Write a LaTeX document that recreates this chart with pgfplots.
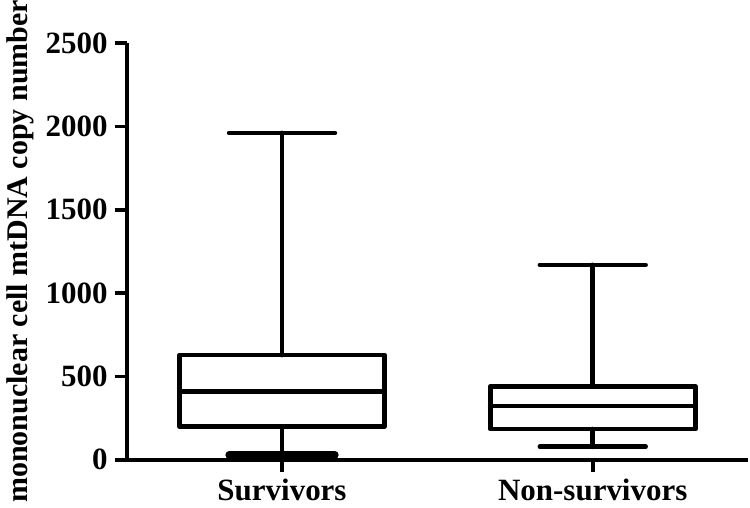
\documentclass[border=0pt]{standalone}
\usepackage{fontspec}
\setmainfont{Liberation Serif}
\usepackage{pgfplots}
\pgfplotsset{compat=1.18}
\newcommand{\tl}[1]{{\fontsize{15.5}{15.5}\selectfont\bfseries #1}}

\begin{document}
\begin{tikzpicture}
\begin{axis}[
    scale only axis,
    width=311pt, height=208.5pt,
    xmin=-0.5, xmax=1.5,
    ymin=0, ymax=2500,
    axis lines=left,
    axis line style={-, line width=1.9pt, black},
    xtick={0,1},
    xticklabels={\tl{Survivors}, \tl{Non-survivors}},
    ytick={0,500,1000,1500,2000,2500},
    yticklabels={\tl{0},\tl{500},\tl{1000},\tl{1500},\tl{2000},\tl{2500}},
    tick align=outside,
    major tick length=6pt,
    tick style={line width=1.9pt, black},
    ylabel={mononuclear cell mtDNA copy number},
    ylabel style={font=\fontsize{15}{15}\selectfont\bfseries, inner xsep=0pt, yshift=-1pt},
    unbounded coords=jump,
    clip=false,
    box/.style={black, line width=2.4pt, line cap=round, line join=round, mark=none},
]
% Survivors: whisker 30, Q1 200, median 408, Q3 628, whisker 1961
\addplot[box] coordinates {(-0.33,200) (0.33,200) (0.33,628) (-0.33,628)} -- cycle;
\addplot[box] coordinates {(-0.33,408) (0.33,408)};
\addplot[box] coordinates {(0,628) (0,1961) (nan,nan) (-0.17,1961) (0.17,1961)};
\addplot[box] coordinates {(0,200) (0,30)};
\addplot[box, line width=3.8pt] coordinates {(-0.17,30) (0.17,30)};
% Non-survivors: whisker 78, Q1 184, median 322, Q3 440, whisker 1169
\addplot[box] coordinates {(0.67,184) (1.33,184) (1.33,440) (0.67,440)} -- cycle;
\addplot[box] coordinates {(0.67,322) (1.33,322)};
\addplot[box] coordinates {(1,440) (1,1169) (nan,nan) (0.83,1169) (1.17,1169)};
\addplot[box] coordinates {(1,184) (1,78) (nan,nan) (0.83,78) (1.17,78)};
\end{axis}
\end{tikzpicture}
\end{document}
